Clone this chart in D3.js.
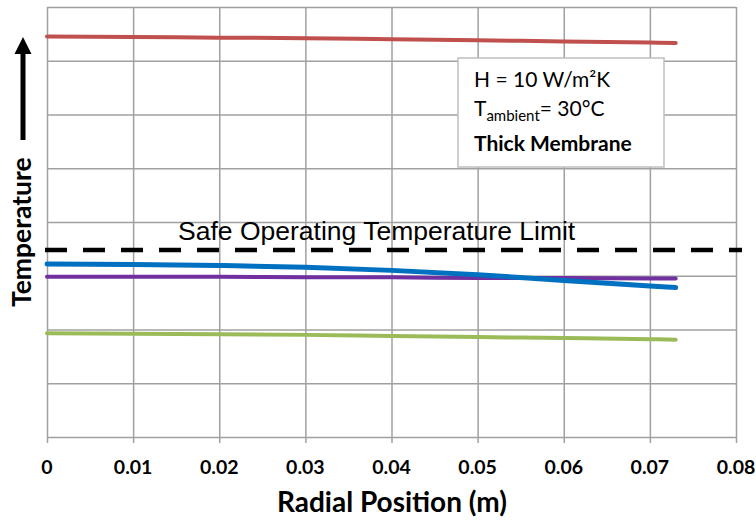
<!DOCTYPE html>
<html><head><meta charset="utf-8">
<script src="https://cdn.jsdelivr.net/npm/d3@7"></script>
<style>body{margin:0;background:#fff}svg{display:block}</style>
</head><body>
<svg id="c" width="756" height="520"></svg>
<script>
const xPos = [0, 0.01, 0.02, 0.03, 0.04, 0.05, 0.06, 0.07, 0.073];
const redVals = [7.45, 7.44, 7.43, 7.42, 7.40, 7.38, 7.36, 7.34, 7.33];
const blueVals = [3.22, 3.21, 3.19, 3.16, 3.10, 3.02, 2.91, 2.81, 2.78];
const purpleVals = [2.98, 2.98, 2.98, 2.97, 2.97, 2.96, 2.96, 2.95, 2.95];
const greenVals = [1.93, 1.92, 1.91, 1.90, 1.88, 1.86, 1.84, 1.82, 1.81];
const limitVal = 3.48;
const xTicks = [0, 0.01, 0.02, 0.03, 0.04, 0.05, 0.06, 0.07, 0.08];
const yGrid = [0, 1, 2, 3, 4, 5, 6, 7, 8];

const svg = d3.select("#c");
const L = 47, R = 736, T = 7, B = 437;
const x = d3.scaleLinear().domain([0, 0.08]).range([L, R]);
const y = d3.scaleLinear().domain([0, 8]).range([B, T]);
const grid = "#a0a0a0";
const ff = "Lato, sans-serif";

// horizontal gridlines
svg.append("g").call(d3.axisLeft(y).tickValues(yGrid).tickSize(-(R - L)).tickFormat(""))
  .attr("transform", `translate(${L},0)`)
  .call(g => g.select(".domain").remove())
  .call(g => g.selectAll("line").attr("stroke", grid).attr("stroke-width", 1.5));
// vertical gridlines + ticks
svg.append("g").attr("transform", `translate(0,${B})`)
  .call(d3.axisBottom(x).tickValues(xTicks).tickSize(6).tickFormat(""))
  .call(g => g.select(".domain").remove())
  .call(g => g.selectAll("line").attr("stroke", grid).attr("stroke-width", 1.5).attr("y1", -(B - T)));
// tick labels
svg.append("g").selectAll("text").data(xTicks).join("text")
  .attr("x", d => x(d)).attr("y", 474).attr("text-anchor", "middle")
  .attr("font-family", ff).attr("font-weight", "bold").attr("font-size", 19.5)
  .attr("fill", "#000").text(d => d === 0 ? "0" : d3.format(".2f")(d));

svg.append("text").attr("x", 392).attr("y", 512).attr("text-anchor", "middle")
  .attr("font-family", ff).attr("font-weight", "bold").attr("font-size", 28)
  .text("Radial Position (m)");

// y label + arrow
svg.append("text").attr("transform", "translate(31,307) rotate(-90)")
  .attr("font-family", ff).attr("font-weight", "bold").attr("font-size", 26.5)
  .text("Temperature");
svg.append("line").attr("x1", 23).attr("x2", 23).attr("y1", 140).attr("y2", 50)
  .attr("stroke", "#000").attr("stroke-width", 5);
svg.append("path").attr("d", "M14.5,54 L23,37 L31.5,54 Z").attr("fill", "#000");

// limit dashed line
svg.append("line").attr("x1", x(0) - 2).attr("x2", 742).attr("y1", y(limitVal)).attr("y2", y(limitVal))
  .attr("stroke", "#000").attr("stroke-width", 4.5).attr("stroke-dasharray", "22,16");
svg.append("text").attr("x", 178).attr("y", 240)
  .attr("font-family", "Liberation Sans, Arial, sans-serif").attr("font-size", 26.5)
  .text("Safe Operating Temperature Limit");

const line = d3.line().x(d => x(d[0])).y(d => y(d[1])).curve(d3.curveMonotoneX);
const series = [
  {v: redVals, c: "#c0504d", w: 4},
  {v: greenVals, c: "#9bbb59", w: 4},
  {v: purpleVals, c: "#7030a0", w: 4},
  {v: blueVals, c: "#0070c0", w: 5}
];
series.forEach(s => {
  svg.append("path").datum(xPos.map((p, i) => [p, s.v[i]]))
    .attr("d", line).attr("fill", "none").attr("stroke", s.c)
    .attr("stroke-width", s.w).attr("stroke-linecap", "round").attr("stroke-linejoin", "round");
});

// annotation box
const bx = svg.append("g");
bx.append("rect").attr("x", 458).attr("y", 58).attr("width", 206).attr("height", 109)
  .attr("fill", "#fff").attr("stroke", "#bfbfbf").attr("stroke-width", 1.5);
bx.append("text").attr("x", 474).attr("y", 87).attr("font-family", ff).attr("font-size", 21)
  .text("H = 10 W/m²K");
const t2 = bx.append("text").attr("x", 474).attr("y", 116).attr("font-family", ff).attr("font-size", 21);
t2.append("tspan").text("T");
t2.append("tspan").attr("font-size", 15).attr("dy", 5).text("ambient");
t2.append("tspan").attr("dy", -5).text("= 30°C");
bx.append("text").attr("x", 474).attr("y", 151).attr("font-family", ff).attr("font-size", 21)
  .attr("font-weight", "bold").text("Thick Membrane");
</script>
</body></html>
